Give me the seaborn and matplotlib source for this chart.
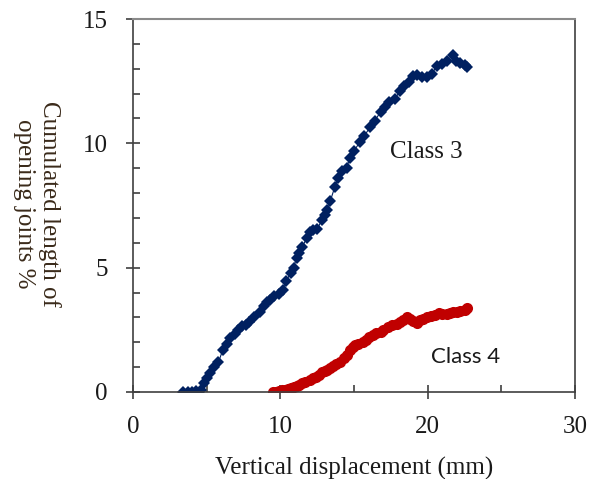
import matplotlib
matplotlib.use("Agg")
import matplotlib.pyplot as plt
import seaborn as sns
from matplotlib.ticker import MultipleLocator

class3_x = [3.4,3.7,4.0,4.3,4.6,4.8,5.0,5.2,5.5,5.8,6.1,6.4,6.6,6.9,7.1,7.4,7.7,7.9,8.2,8.6,
            8.9,9.1,9.3,9.6,9.9,10.2,10.4,10.7,10.9,11.1,11.3,11.5,11.8,12.0,12.2,12.5,12.8,13.0,13.2,13.4,
            13.7,13.9,14.2,14.5,14.7,15.0,15.4,15.7,16.1,16.4,16.8,17.1,17.4,17.8,18.1,18.4,18.7,19.0,19.3,19.6,
            19.95,20.3,20.6,21.0,21.3,21.7,21.9,22.2,22.5,22.7]
class3_y = [0,0,0,0.05,0.1,0.36,0.55,0.76,1.0,1.2,1.7,1.95,2.17,2.35,2.5,2.65,2.7,2.8,3.0,3.2,
            3.45,3.6,3.7,3.85,3.95,4.1,4.45,4.8,5.0,5.4,5.6,5.85,6.2,6.43,6.5,6.55,6.9,7.1,7.3,7.7,
            8.25,8.6,8.9,9.0,9.4,9.7,10.05,10.3,10.66,10.9,11.26,11.45,11.66,11.8,12.1,12.3,12.46,12.7,12.75,12.65,
            12.67,12.8,13.1,13.2,13.3,13.55,13.3,13.25,13.15,13.07]

class4_x = [9.5,9.7,9.9,10.1,10.3,10.5,10.7,10.9,11.1,11.3,11.5,11.7,12.0,12.2,12.4,12.6,12.8,13.0,13.2,13.4,
            13.6,13.8,14.05,14.3,14.5,14.7,14.9,15.1,15.3,15.6,15.8,16.0,16.3,16.5,16.8,17.0,17.3,17.6,17.9,18.1,
            18.3,18.6,18.8,19.0,19.3,19.5,19.7,19.95,20.2,20.5,20.8,21.0,21.3,21.5,21.7,22.0,22.2,22.5,22.7]
class4_y = [0,0.02,0.05,0.08,0.1,0.12,0.15,0.2,0.25,0.3,0.38,0.42,0.48,0.55,0.62,0.7,0.8,0.85,0.9,0.97,
            1.05,1.12,1.2,1.35,1.5,1.7,1.8,1.88,1.95,2.0,2.1,2.2,2.3,2.37,2.42,2.5,2.6,2.7,2.75,2.82,
            2.9,3.0,2.95,2.85,2.77,2.9,2.95,3.0,3.05,3.1,3.17,3.15,3.12,3.17,3.2,3.22,3.25,3.3,3.37]

x_ticks = [0, 10, 20, 30]
y_ticks = [0, 5, 10, 15]
x_label = "Vertical displacement (mm)"
y_label = "Cumulated length of\nopening joints %"
label3 = "Class 3"
label4 = "Class 4"

sns.set_style("white")
plt.rcParams['font.family'] = ['Liberation Serif', 'DejaVu Serif']

fig = plt.figure(figsize=(5.93, 4.79), dpi=100)
ax = fig.add_axes([133/593, 1-392/479, (575-133)/593, (392-19)/479])

sns.lineplot(x=class3_x, y=class3_y, ax=ax, color="#002060", marker="D", markersize=5.8,
             markeredgewidth=0, linewidth=0.8, sort=False, estimator=None)
sns.lineplot(x=class4_x, y=class4_y, ax=ax, color="#C00000", marker="o", markersize=8,
             markeredgewidth=0, linewidth=1.5, sort=False, estimator=None)

ax.set_xlim(0, 30)
ax.set_ylim(0, 15)
ax.set_xticks(x_ticks)
ax.set_yticks(y_ticks)
ax.xaxis.set_minor_locator(MultipleLocator(5))
ax.yaxis.set_minor_locator(MultipleLocator(1))
ax.tick_params(axis='both', which='both', bottom=True, left=True, top=False, right=False)
ax.tick_params(axis='both', which='major', direction='inout', length=10, width=1.2,
               color='#404040', labelsize=18, labelcolor='#1a1a1a')
ax.tick_params(axis='x', which='major', pad=12)
ax.tick_params(axis='y', which='major', pad=13)
ax.tick_params(axis='both', which='minor', direction='in', length=5, width=1.2, color='#404040')

for s in ['left', 'bottom', 'right']:
    ax.spines[s].set_color('#404040')
    ax.spines[s].set_linewidth(1.2)
ax.spines['top'].set_color('#8a8a8a')
ax.spines['top'].set_linewidth(1.5)

ax.set_xlabel(x_label, fontsize=18, color='#1a1a1a', labelpad=14)
ax.set_ylabel("")
fig.text(37/593, 1-204/479, y_label, rotation=270, ha='center', va='center',
         fontsize=18, color='#3a2a1a', linespacing=1.15, multialignment='center')

ax.text(17.45, 9.65, label3, fontsize=18, color='#1a1a1a', va='center', ha='left')
ax.text(20.2, 1.4, label4, fontsize=16, color='#1a1a1a', va='center', ha='left',
        family=['Lato', 'DejaVu Sans'])

fig.savefig("out.png", dpi=100)
